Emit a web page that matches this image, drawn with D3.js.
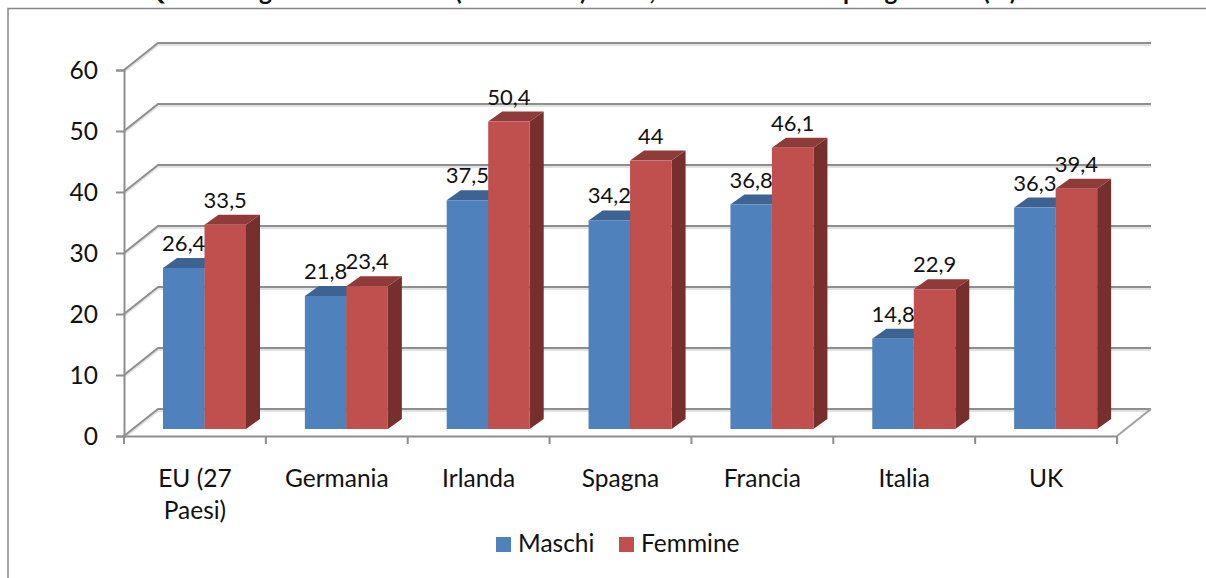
<!DOCTYPE html>
<html>
<head>
<meta charset="utf-8">
<script src="https://cdn.jsdelivr.net/npm/d3@7"></script>
<style>
  body { margin: 0; background: #fff; }
  text { font-family: Lato, sans-serif; fill: #111; }
</style>
</head>
<body>
<div id="target"></div>
<script>
const categories = ["EU (27 Paesi)", "Germania", "Irlanda", "Spagna", "Francia", "Italia", "UK"];
const series = ["Maschi", "Femmine"];
const maschi = [26.4, 21.8, 37.5, 34.2, 36.8, 14.8, 36.3];
const femmine = [33.5, 23.4, 50.4, 44, 46.1, 22.9, 39.4];
const yTicks = [0, 10, 20, 30, 40, 50, 60];
// only the bottom edge of this title survives in the picture, wording is a best guess
const titleParts = ["Grafico 1 –", "Quota dei giovani laureati", "(30-34 anni) 2010,", "per genere", "(%)", "UE e Paesi"];
const titleX = [12, 145, 455, 843, 983, 1040];

function bar() {
  const width = 1206,
    height = 578,
    depthX = 34,
    depthY = -27,
    sideX = 14,
    sideY = -10,
    barShift = 7;

  const colors = {
    Maschi: { front: "#4f81bd", top: "#3c6391", side: "#335a85" },
    Femmine: { front: "#c0504d", top: "#8f3b39", side: "#772f2d" }
  };

  let svg = d3.select("#target").append("svg")
    .attr("width", width)
    .attr("height", height)
    .style("display", "block");

  let x = d3.scaleBand()
    .domain(categories)
    .range([124, 1117]);
  let xInner = d3.scaleBand()
    .domain(series)
    .range([39, 122]);
  let y = d3.scaleLinear()
    .domain([0, 60])
    .range([436, 70]);

  // chart frame, cut by the page on the right and at the bottom
  svg.append("path")
    .attr("d", `M8,${height}V8.5H${width}`)
    .attr("fill", "none")
    .attr("stroke", "#868686")
    .attr("stroke-width", 1.5);

  svg.selectAll("text.title")
    .data(titleParts)
    .enter().append("text")
    .attr("class", "title")
    .attr("x", (d, i) => titleX[i])
    .attr("y", 0)
    .style("font-size", "24.5px")
    .style("font-weight", 700)
    .text((d) => d);

  // gridlines on the back wall and the side wall
  const gridPath = (t) => {
    return `M${x.range()[0]},${y(t)}L${x.range()[0] + depthX},${y(t) + depthY}H${x.range()[1] + depthX}`;
  };
  svg.selectAll("path.grid-shadow")
    .data(yTicks)
    .enter().append("path")
    .attr("class", "grid-shadow")
    .attr("d", gridPath)
    .attr("transform", "translate(0,2)")
    .attr("fill", "none")
    .attr("stroke", "#e2e2e2")
    .attr("stroke-width", 2);
  svg.selectAll("path.grid")
    .data(yTicks)
    .enter().append("path")
    .attr("class", "grid")
    .attr("d", gridPath)
    .attr("fill", "none")
    .attr("stroke", "#8e8e8e")
    .attr("stroke-width", 2);

  // right edge of the floor
  svg.append("path")
    .attr("d", `M${x.range()[1]},${y(0)}l${depthX},${depthY}`)
    .attr("fill", "none")
    .attr("stroke", "#a0a0a0")
    .attr("stroke-width", 2);

  let yAxis = d3.axisLeft(y)
    .tickValues(yTicks)
    .tickSize(8)
    .tickPadding(18);
  let yG = svg.append("g")
    .attr("transform", `translate(${x.range()[0]},0)`)
    .call(yAxis);
  yG.selectAll("path, line")
    .attr("stroke", "#8e8e8e")
    .attr("stroke-width", 2);
  yG.selectAll("text")
    .style("font-size", "24.5px")
    .attr("dy", "0.36em");

  let xAxis = d3.axisBottom(x)
    .tickSize(0)
    .tickPadding(0);
  let xG = svg.append("g")
    .attr("transform", `translate(0,${y(0)})`)
    .call(xAxis);
  xG.select("path")
    .attr("stroke", "#8e8e8e")
    .attr("stroke-width", 2);
  xG.selectAll("text")
    .style("font-size", "24.5px")
    .each(function (d) {
      const parts = d === "EU (27 Paesi)" ? ["EU (27", "Paesi)"] : [d];
      const t = d3.select(this).text(null).attr("y", 0).attr("dy", null);
      parts.forEach((p, i) => {
        t.append("tspan")
          .attr("x", 0)
          .attr("y", 51 + i * 32)
          .text(p);
      });
    });

  // ticks sit between the categories, not under them
  svg.selectAll("line.xtick")
    .data(d3.range(categories.length + 1))
    .enter().append("line")
    .attr("class", "xtick")
    .attr("x1", (i) => x.range()[0] + i * x.step())
    .attr("x2", (i) => x.range()[0] + i * x.step())
    .attr("y1", y(0))
    .attr("y2", y(0) + 8)
    .attr("stroke", "#8e8e8e")
    .attr("stroke-width", 2);

  const rows = [];
  categories.forEach((c, i) => {
    rows.push({ category: c, name: "Maschi", value: maschi[i] });
    rows.push({ category: c, name: "Femmine", value: femmine[i] });
  });
  const barX = (d) => x(d.category) + xInner(d.name);
  const barTop = (d) => y(d.value) - barShift;
  const barBase = y(0) - barShift;
  const barW = xInner.bandwidth();

  let bars = svg.selectAll("g.bar")
    .data(rows)
    .enter().append("g")
    .attr("class", "bar");
  bars.append("path")
    .attr("fill", (d) => colors[d.name].side)
    .attr("d", (d) => {
      const r = barX(d) + barW;
      return `M${r},${barTop(d)}l${sideX},${sideY}V${barBase + sideY}L${r},${barBase}Z`;
    });
  bars.append("path")
    .attr("fill", (d) => colors[d.name].top)
    .attr("d", (d) => {
      return `M${barX(d)},${barTop(d)}l${sideX},${sideY}h${barW}l${-sideX},${-sideY}Z`;
    });
  bars.append("rect")
    .attr("x", barX)
    .attr("y", barTop)
    .attr("width", barW)
    .attr("height", (d) => barBase - barTop(d))
    .attr("fill", (d) => colors[d.name].front);

  svg.selectAll("text.value")
    .data(rows)
    .enter().append("text")
    .attr("class", "value")
    .attr("x", (d) => barX(d) + barW / 2)
    .attr("y", (d) => barTop(d) - 17)
    .attr("text-anchor", "middle")
    .style("font-size", "22px")
    .text((d) => String(d.value).replace(".", ","));

  // legend
  const legendX = [496, 619];
  let legend = svg.selectAll("g.legend")
    .data(series)
    .enter().append("g")
    .attr("class", "legend")
    .attr("transform", (d, i) => `translate(${legendX[i]},537)`);
  legend.append("rect")
    .attr("width", 15)
    .attr("height", 15)
    .attr("fill", (d) => colors[d].front);
  legend.append("text")
    .attr("x", 22)
    .attr("y", 15)
    .style("font-size", "24.5px")
    .text((d) => d);
}
bar();
</script>
</body>
</html>
